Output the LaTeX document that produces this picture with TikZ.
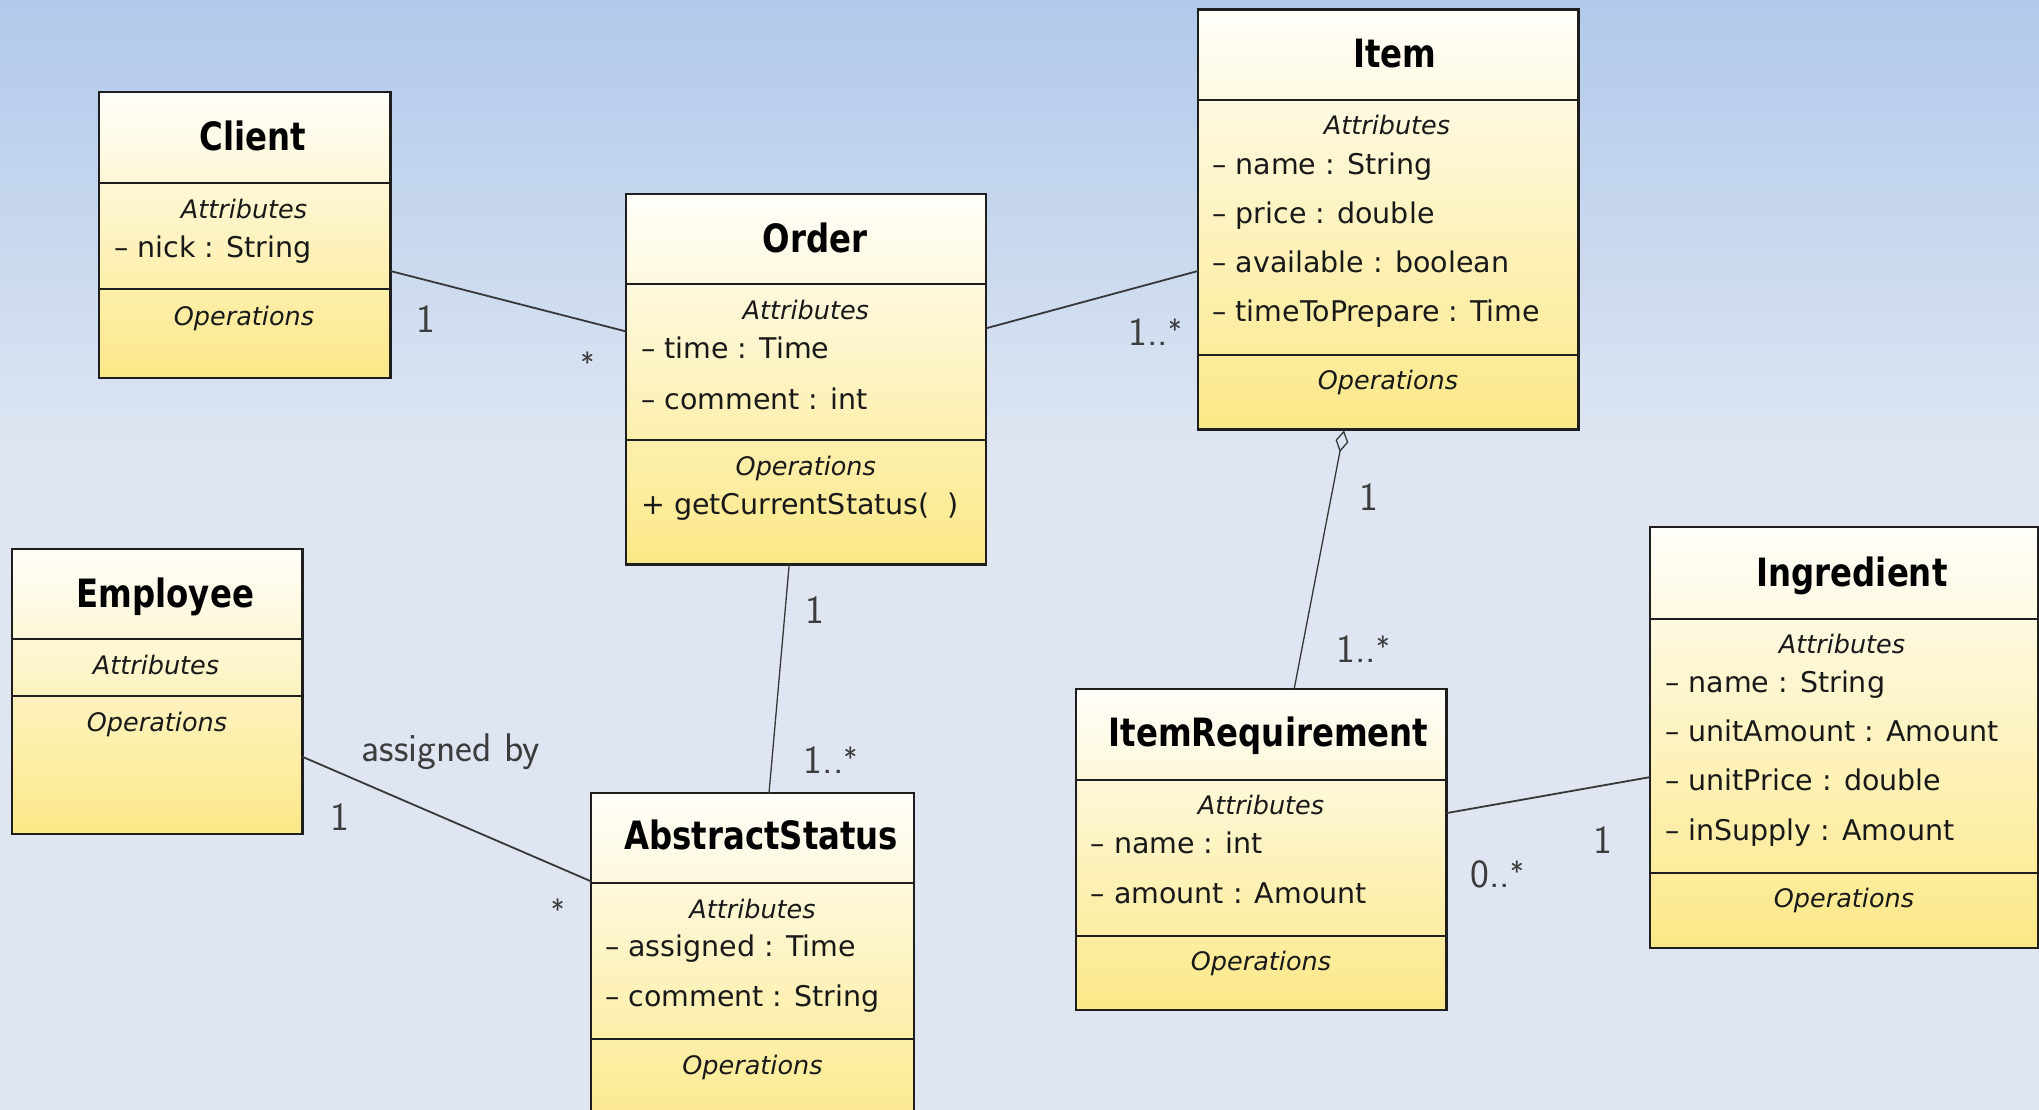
\documentclass[tikz,border=0pt]{standalone}
\usepackage{fontspec}
\usetikzlibrary{calc,arrows.meta}
\newfontfamily\umlfont{DejaVu Sans}
\newfontfamily\umltitlefont[FakeStretch=0.83]{DejaVu Sans}
\definecolor{bgtop}{RGB}{177,201,235}
\definecolor{bgbot}{RGB}{223,230,242}
\definecolor{boxtop}{RGB}{255,254,250}
\definecolor{boxbot}{RGB}{251,232,135}
\definecolor{edgecol}{RGB}{30,30,30}
\definecolor{multcol}{RGB}{60,60,60}
\definecolor{linecol}{RGB}{55,55,55}
\definecolor{txtcol}{RGB}{25,25,25}
\newcommand{\mstar}{\raisebox{5pt}{\fontsize{29}{30}\selectfont *}}
\tikzset{
  classbox/.style={draw=edgecol, line width=2.2pt, top color=boxtop, bottom color=boxbot,
    inner sep=0pt, outer sep=0pt, anchor=north west},
  divline/.style={draw=edgecol, line width=2pt},
  titletext/.style={inner sep=0pt, text height=28.5pt, text depth=0pt, text=black,
    font=\umltitlefont\bfseries\fontsize{39}{45}\selectfont},
  attrtext/.style={inner sep=0pt, text height=20.8pt, text depth=0pt, anchor=west, text=txtcol,
    font=\umlfont\fontsize{28.5}{34}\selectfont},
  secttext/.style={inner sep=0pt, text height=18.6pt, text depth=0pt, text=txtcol,
    font=\umlfont\itshape\fontsize{25.5}{30}\selectfont},
  multtext/.style={inner sep=0pt, anchor=base, text=multcol,
    font=\sffamily\fontsize{40}{46}\selectfont},
  assoc/.style={draw=linecol, line width=1.8pt},
  assocthin/.style={draw=linecol, line width=1.3pt},
}
\begin{document}
\begin{tikzpicture}[x=1pt,y=-1pt]
\useasboundingbox (0,0) rectangle (2039,1110);
\clip (0,0) rectangle (2039,1110);
% background
\shade[top color=bgtop, bottom color=bgbot] (0,0) rectangle (2039,460);
\fill[bgbot] (0,459) rectangle (2039,1110);

% ---------- Client ----------
\node[classbox, minimum width=291.5pt, minimum height=285.5pt] (client) at (98.9,92.2) {};
\draw[divline] ($(client.north west)+(0,90.7)$) -- ($(client.north east)+(0,90.7)$);
\draw[divline] ($(client.north west)+(0,197.1)$) -- ($(client.north east)+(0,197.1)$);
\node[titletext] (clientT) at (253,136) {Client};
\node[secttext] (clientA) at (244,209.3) {Attributes};
\node[attrtext] (clientA1) at (113.9,246.8) {– nick : String};
\node[secttext] (clientO) at (244,315.7) {Operations};

% ---------- Order ----------
\node[classbox, minimum width=359.8pt, minimum height=370.5pt] (order) at (625.9,194) {};
\draw[divline] ($(order.north west)+(0,90.3)$) -- ($(order.north east)+(0,90.3)$);
\draw[divline] ($(order.north west)+(0,246.1)$) -- ($(order.north east)+(0,246.1)$);
\node[titletext] (orderT) at (815,238) {Order};
\node[secttext] (orderA) at (805.8,310) {Attributes};
\node[attrtext] (orderA1) at (641,348.3) {– time : Time};
\node[attrtext] (orderA2) at (641,398.8) {– comment : int};
\node[secttext] (orderO) at (805.8,466) {Operations};
\node[attrtext] (orderO1) at (641,504) {+ getCurrentStatus(\hspace{18pt})};

% ---------- Item ----------
\node[classbox, minimum width=380.6pt, minimum height=419.8pt] (item) at (1197.9,9.6) {};
\draw[divline] ($(item.north west)+(0,90.7)$) -- ($(item.north east)+(0,90.7)$);
\draw[divline] ($(item.north west)+(0,345.2)$) -- ($(item.north east)+(0,345.2)$);
\node[titletext] (itemT) at (1394.7,53) {Item};
\node[secttext] (itemA) at (1387,125.5) {Attributes};
\node[attrtext] (itemA1) at (1212.2,164.6) {– name : String};
\node[attrtext] (itemA2) at (1212.2,213.2) {– price : double};
\node[attrtext] (itemA3) at (1212.2,262.5) {– available : boolean};
\node[attrtext] (itemA4) at (1212.2,310.8) {– timeToPrepare : Time};
\node[secttext] (itemO) at (1388,380) {Operations};

% ---------- Employee ----------
\node[classbox, minimum width=290.8pt, minimum height=285.5pt] (employee) at (11.7,548.7) {};
\draw[divline] ($(employee.north west)+(0,90.7)$) -- ($(employee.north east)+(0,90.7)$);
\draw[divline] ($(employee.north west)+(0,147.7)$) -- ($(employee.north east)+(0,147.7)$);
\node[titletext] (employeeT) at (165.3,592.9) {Employee};
\node[secttext] (employeeA) at (156,665) {Attributes};
\node[secttext] (employeeO) at (157,722.4) {Operations};

% ---------- AbstractStatus ----------
\node[classbox, minimum width=323.3pt, minimum height=346.8pt] (astatus) at (590.8,793.2) {};
\draw[divline] ($(astatus.north west)+(0,89.9)$) -- ($(astatus.north east)+(0,89.9)$);
\draw[divline] ($(astatus.north west)+(0,246.1)$) -- ($(astatus.north east)+(0,246.1)$);
\node[titletext] (astatusT) at (761.2,835.7) {AbstractStatus};
\node[secttext] (astatusA) at (752.5,909.2) {Attributes};
\node[attrtext] (astatusA1) at (605,946.3) {– assigned : Time};
\node[attrtext] (astatusA2) at (605,996) {– comment : String};
\node[secttext] (astatusO) at (752.5,1064.9) {Operations};

% ---------- ItemRequirement ----------
\node[classbox, minimum width=370.2pt, minimum height=321.5pt] (ireq) at (1076.3,688.7) {};
\draw[divline] ($(ireq.north west)+(0,91.1)$) -- ($(ireq.north east)+(0,91.1)$);
\draw[divline] ($(ireq.north west)+(0,246.9)$) -- ($(ireq.north east)+(0,246.9)$);
\node[titletext] (ireqT) at (1268.5,732) {ItemRequirement};
\node[secttext] (ireqA) at (1261,805.4) {Attributes};
\node[attrtext] (ireqA1) at (1090.6,843) {– name : int};
\node[attrtext] (ireqA2) at (1090.6,892.7) {– amount : Amount};
\node[secttext] (ireqO) at (1261,961.6) {Operations};

% ---------- Ingredient ----------
\node[classbox, minimum width=387.9pt, minimum height=421.2pt] (ingr) at (1650.1,527) {};
\draw[divline] ($(ingr.north west)+(0,92)$) -- ($(ingr.north east)+(0,92)$);
\draw[divline] ($(ingr.north west)+(0,345.8)$) -- ($(ingr.north east)+(0,345.8)$);
\node[titletext] (ingrT) at (1852,572.2) {Ingredient};
\node[secttext] (ingrA) at (1842,644) {Attributes};
\node[attrtext] (ingrA1) at (1665,682.2) {– name : String};
\node[attrtext] (ingrA2) at (1665,731.2) {– unitAmount : Amount};
\node[attrtext] (ingrA3) at (1665,780.2) {– unitPrice : double};
\node[attrtext] (ingrA4) at (1665,829.6) {– inSupply : Amount};
\node[secttext] (ingrO) at (1844,898.4) {Operations};

% ---------- connectors ----------
\draw[assoc] ($(client.north east)+(0,178.8)$) -- ($(order.north west)+(0,137.4)$);
\draw[assoc] ($(order.north east)+(0,134.4)$) -- ($(item.north west)+(0,261.4)$);
\draw[assocthin] ($(order.south west)+(163.3,0)$) -- ($(astatus.north west)+(178.2,0)$);
\draw[assoc] ($(employee.north east)+(0,208.1)$) -- ($(astatus.north west)+(0,88)$);
\draw[assocthin, {Diamond[open, length=22pt, width=13pt, line width=1.3pt]}-]
  ($(item.south west)+(146.1,1)$) -- ($(ireq.north west)+(217.9,0)$);
\draw[assoc] ($(ireq.north east)+(0,124.4)$) -- ($(ingr.north west)+(0,250.1)$);

% ---------- multiplicities ----------
\node[multtext] (m1) at (426,332) {1};
\node[multtext] (m2) at (587.5,378) {\mstar};
\node[multtext] (m3) at (1155,345) {1..\mstar};
\node[multtext] (m4) at (1368.4,510) {1};
\node[multtext] (m5) at (1363,662) {1..\mstar};
\node[multtext] (m6) at (815.2,623) {1};
\node[multtext] (m7) at (830.5,773) {1..\mstar};
\node[multtext] (m8) at (451,761) {assigned by};
\node[multtext] (m9) at (340.3,830) {1};
\node[multtext] (m10) at (557.6,925) {\mstar};
\node[multtext] (m11) at (1497,887) {0..\mstar};
\node[multtext] (m12) at (1603.3,853) {1};
\end{tikzpicture}
\end{document}
